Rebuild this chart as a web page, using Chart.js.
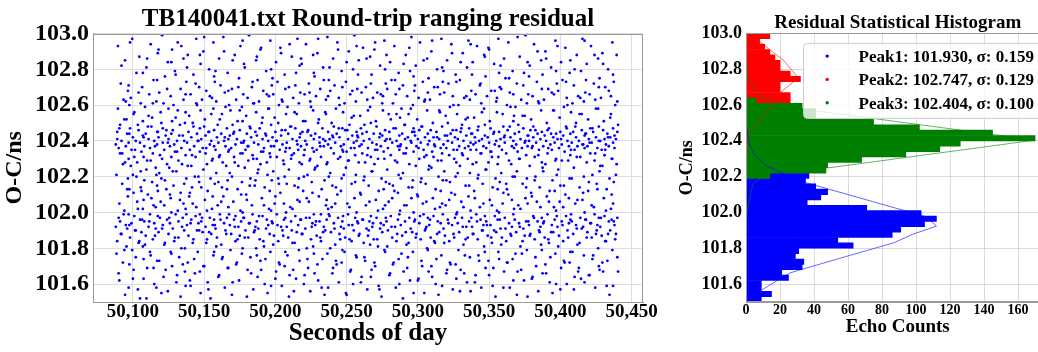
<!DOCTYPE html>
<html><head><meta charset="utf-8">
<script src="https://cdn.jsdelivr.net/npm/chart.js@4.4.1/dist/chart.umd.min.js"></script>
<style>
html,body{margin:0;padding:0;background:#fff;overflow:hidden;}
#wrap{position:relative;width:1038px;height:352px;overflow:hidden;background:#fff;}
#left{position:absolute;left:0;top:0;}
#right{position:absolute;left:677px;top:0;}
</style></head>
<body><div id="wrap"><canvas id="left" width="677" height="352"></canvas><canvas id="right" width="378" height="352"></canvas></div>
<script>
// ---------- DATA ----------
const SECOND_BASE = 50000; // echo times below are seconds after 50000 s of day
// pairs: [seconds after 50000, O-C residual in ns]
const echoSeg1 = [
88,102.38,88,101.92,89,102.45,89,101.84,89,102.41,90,102.36,90,101.97,90,101.66,91,102.49,91,102.33,91,101.95,92,102.82,92,102.40,92,101.88,93,102.27,93,101.72,94,102.52,94,102.01,94,101.79,95,102.37,95,101.93,95,102.62,96,102.44,96,102.13,96,101.91,97,102.30,97,101.58,97,102.39,97,101.99,97,102.71,
98,102.47,98,101.86,98,102.95,99,102.35,99,101.94,100,102.42,100,102.21,100,101.63,101,102.31,101,101.98,101,102.56,102,102.40,102,101.90,102,101.75,103,102.28,103,102.06,104,102.46,104,101.83,104,102.67,105,102.39,105,101.96,105,101.52,106,102.34,106,102.12,106,101.89,107,102.51,107,101.81,107,102.43,107,102.02,107,102.78,
108,102.37,108,101.95,108,102.18,109,102.44,109,101.87,110,102.29,110,101.69,110,102.86,111,102.41,111,101.92,111,102.54,112,102.36,112,101.99,112,101.78,113,102.48,113,102.08,114,102.33,114,101.85,114,102.61,115,102.40,115,101.94,115,101.60,116,102.25,116,102.03,116,101.91,117,102.45,117,101.73,117,102.38,117,102.15,117,102.74,
118,102.42,118,101.89,118,102.91,119,102.32,119,101.97,120,102.50,120,102.19,120,101.55,121,102.39,121,101.93,121,102.47,122,102.35,122,101.82,122,102.04,123,102.43,123,101.68,124,102.27,124,101.96,124,102.69,125,102.41,125,101.88,125,102.58,126,102.37,126,102.10,126,101.94,127,102.31,127,101.77,127,102.44,127,102.00,127,102.84,
128,102.46,128,101.91,128,102.23,129,102.38,129,101.84,130,102.53,130,101.99,130,102.77,131,102.34,131,101.65,131,102.40,132,102.29,132,101.95,132,101.86,133,102.49,133,102.07,134,102.36,134,101.80,134,102.93,135,102.43,135,101.97,135,101.71,136,102.40,136,102.16,136,101.90,137,102.32,137,101.59,137,102.56,137,102.02,137,102.66
];
const echoSeg2 = [
138,102.39,138,101.93,138,102.81,139,102.45,139,101.87,140,102.35,140,102.11,140,101.62,141,102.42,141,101.96,141,102.26,142,102.50,142,101.83,142,102.05,143,102.37,143,101.74,144,102.31,144,101.98,144,102.72,145,102.44,145,101.90,145,102.60,146,102.40,146,102.20,146,101.94,147,102.34,147,101.67,147,102.47,147,101.99,147,102.88,
148,102.41,148,101.95,148,102.14,149,102.36,149,101.89,150,102.48,150,101.70,150,102.98,151,102.33,151,101.92,151,102.43,152,102.27,152,101.85,152,102.01,153,102.45,153,101.57,154,102.38,154,101.97,154,102.65,155,102.40,155,101.88,155,102.55,156,102.30,156,102.09,156,101.93,157,102.46,157,101.78,157,102.37,157,101.96,157,102.76,
158,102.35,158,101.91,158,102.79,159,102.42,159,101.86,160,102.39,160,102.17,160,101.64,161,102.52,161,101.99,161,102.32,162,102.44,162,101.82,162,102.06,163,102.28,163,101.75,164,102.40,164,101.94,164,102.90,165,102.37,165,101.90,165,102.59,166,102.47,166,102.13,166,101.97,167,102.34,167,101.69,167,102.41,167,102.03,167,102.68,
168,102.43,168,101.93,168,102.22,169,102.36,169,101.88,170,102.49,170,101.61,170,102.85,171,102.31,171,101.96,171,102.45,172,102.38,172,101.84,172,101.98,173,102.41,173,101.72,174,102.26,174,101.92,174,102.70,175,102.46,175,101.87,175,102.57,176,102.39,176,102.10,176,101.95,177,102.33,177,101.80,177,102.51,177,102.00,177,102.96,
178,102.40,178,101.97,178,102.83,179,102.35,179,101.90,180,102.44,180,102.07,180,101.53,181,102.37,181,101.86,181,102.29,182,102.48,182,101.94,182,102.15,183,102.42,183,101.66,184,102.32,184,101.99,184,102.73,185,102.39,185,101.89,185,102.61,186,102.45,186,102.18,186,101.92,187,102.30,187,101.76,187,102.43,187,101.95,187,102.87
];
const echoSeg3 = [
188,102.38,188,101.91,188,102.24,189,102.47,189,101.85,190,102.34,190,101.68,190,102.92,191,102.41,191,101.98,191,102.53,192,102.36,192,101.81,192,102.04,193,102.44,193,101.74,194,102.28,194,101.96,194,102.66,195,102.40,195,101.93,195,102.58,196,102.33,196,102.12,196,101.88,197,102.49,197,101.59,197,102.37,197,102.01,197,102.80,
198,102.42,198,101.94,198,102.75,199,102.37,199,101.87,200,102.45,200,102.09,200,101.63,201,102.31,201,101.99,201,102.40,202,102.50,202,101.84,202,102.19,203,102.35,203,101.71,204,102.43,204,101.92,204,102.89,205,102.38,205,101.90,205,102.62,206,102.27,206,102.05,206,101.96,207,102.46,207,101.78,207,102.34,207,101.97,207,102.69,
208,102.39,208,101.92,208,102.16,209,102.44,209,101.86,210,102.36,210,101.65,210,102.94,211,102.48,211,101.95,211,102.30,212,102.41,212,101.83,212,102.02,213,102.33,213,101.56,214,102.47,214,101.98,214,102.71,215,102.40,215,101.89,215,102.55,216,102.35,216,102.14,216,101.93,217,102.42,217,101.73,217,102.28,217,102.06,217,102.82,
218,102.37,218,101.96,218,102.86,219,102.45,219,101.88,220,102.32,220,102.20,220,101.60,221,102.40,221,101.91,221,102.51,222,102.38,222,101.80,222,102.08,223,102.46,223,101.69,224,102.29,224,101.97,224,102.67,225,102.43,225,101.85,225,102.59,226,102.36,226,102.11,226,101.94,227,102.41,227,101.77,227,102.34,227,101.99,227,102.78,
228,102.44,228,101.93,228,102.25,229,102.35,229,101.87,230,102.50,230,101.62,230,102.97,231,102.39,231,101.95,231,102.42,232,102.31,232,101.84,232,101.99,233,102.47,233,101.74,234,102.37,234,101.92,234,102.74,235,102.40,235,101.90,235,102.56,236,102.27,236,102.07,236,101.96,237,102.45,237,101.58,237,102.38,237,102.02,237,102.65
];
const echoSeg4 = [
238,102.41,238,101.98,238,102.81,239,102.36,239,101.89,240,102.43,240,102.15,240,101.66,241,102.33,241,101.94,241,102.48,242,102.39,242,101.82,242,102.05,243,102.44,243,101.71,244,102.30,244,101.97,244,102.91,245,102.42,245,101.88,245,102.60,246,102.37,246,102.12,246,101.92,247,102.47,247,101.79,247,102.35,247,101.95,247,102.70,
248,102.38,248,101.91,248,102.21,249,102.46,249,101.86,250,102.34,250,101.54,250,102.84,251,102.41,251,101.99,251,102.29,252,102.49,252,101.85,252,102.03,253,102.36,253,101.68,254,102.43,254,101.93,254,102.68,255,102.39,255,101.90,255,102.54,256,102.32,256,102.17,256,101.97,257,102.45,257,101.75,257,102.40,257,102.00,257,102.93,
258,102.42,258,101.94,258,102.77,259,102.37,259,101.88,260,102.47,260,102.10,260,101.61,261,102.33,261,101.96,261,102.44,262,102.40,262,101.83,262,102.18,263,102.28,263,101.73,264,102.45,264,101.91,264,102.86,265,102.36,265,101.87,265,102.57,266,102.41,266,102.06,266,101.95,267,102.31,267,101.64,267,102.50,267,101.98,267,102.72,
268,102.39,268,101.92,268,102.23,269,102.44,269,101.85,270,102.35,270,101.70,270,102.95,271,102.48,271,101.97,271,102.38,272,102.30,272,101.81,272,102.01,273,102.42,273,101.57,274,102.37,274,101.94,274,102.66,275,102.43,275,101.89,275,102.61,276,102.34,276,102.13,276,101.93,277,102.46,277,101.78,277,102.40,277,102.04,277,102.80,
278,102.41,278,101.95,278,102.88,279,102.36,279,101.90,280,102.45,280,102.16,280,101.65,281,102.32,281,101.98,281,102.52,282,102.39,282,101.86,282,102.08,283,102.47,283,101.72,284,102.29,284,101.92,284,102.74,285,102.40,285,101.84,285,102.55,286,102.37,286,102.11,286,101.96,287,102.43,287,101.60,287,102.35,287,101.99,287,102.69
];
const echoSeg5 = [
288,102.38,288,101.93,288,102.19,289,102.44,289,101.87,290,102.33,290,101.67,290,102.83,291,102.49,291,101.95,291,102.41,292,102.36,292,101.82,292,102.04,293,102.42,293,101.75,294,102.27,294,101.97,294,102.92,295,102.40,295,101.91,295,102.58,296,102.45,296,102.14,296,101.89,297,102.34,297,101.55,297,102.47,297,102.00,297,102.76,
298,102.43,298,101.96,298,102.71,299,102.37,299,101.88,300,102.41,300,102.09,300,101.62,301,102.30,301,101.94,301,102.46,302,102.39,302,101.85,302,102.17,303,102.48,303,101.70,304,102.35,304,101.99,304,102.85,305,102.42,305,101.90,305,102.63,306,102.32,306,102.06,306,101.92,307,102.44,307,101.79,307,102.38,307,101.97,307,102.67,
308,102.40,308,101.93,308,102.26,309,102.46,309,101.86,310,102.34,310,101.64,310,102.96,311,102.42,311,101.98,311,102.31,312,102.37,312,101.83,312,102.02,313,102.45,313,101.74,314,102.29,314,101.95,314,102.70,315,102.41,315,101.89,315,102.57,316,102.36,316,102.12,316,101.94,317,102.48,317,101.59,317,102.33,317,102.05,317,102.81,
318,102.38,318,101.91,318,102.79,319,102.43,319,101.87,320,102.36,320,102.18,320,101.66,321,102.50,321,101.96,321,102.40,322,102.32,322,101.84,322,102.07,323,102.44,323,101.71,324,102.39,324,101.93,324,102.89,325,102.35,325,101.88,325,102.60,326,102.42,326,102.10,326,101.97,327,102.28,327,101.63,327,102.46,327,101.99,327,102.73,
328,102.41,328,101.94,328,102.22,329,102.37,329,101.89,330,102.45,330,101.68,330,102.84,331,102.33,331,101.97,331,102.49,332,102.40,332,101.82,332,102.03,333,102.36,333,101.76,334,102.43,334,101.92,334,102.65,335,102.30,335,101.86,335,102.53,336,102.47,336,102.15,336,101.95,337,102.39,337,101.56,337,102.35,337,102.01,337,102.94
];
const echoSeg6 = [
338,102.44,338,101.92,338,102.77,339,102.38,339,101.88,340,102.42,340,102.08,340,101.61,341,102.35,341,101.99,341,102.28,342,102.46,342,101.85,342,102.19,343,102.40,343,101.73,344,102.33,344,101.96,344,102.72,345,102.41,345,101.90,345,102.56,346,102.37,346,102.05,346,101.93,347,102.49,347,101.78,347,102.43,347,101.98,347,102.87,
348,102.36,348,101.95,348,102.24,349,102.42,349,101.87,350,102.39,350,101.65,350,102.91,351,102.47,351,101.93,351,102.34,352,102.31,352,101.83,352,102.04,353,102.44,353,101.69,354,102.38,354,101.98,354,102.68,355,102.40,355,101.89,355,102.62,356,102.27,356,102.13,356,101.96,357,102.45,357,101.74,357,102.37,357,102.00,357,102.78,
358,102.41,358,101.91,358,102.82,359,102.35,359,101.86,360,102.48,360,102.11,360,101.58,361,102.39,361,101.97,361,102.43,362,102.33,362,101.84,362,102.16,363,102.46,363,101.72,364,102.29,364,101.94,364,102.75,365,102.42,365,101.88,365,102.59,366,102.37,366,102.07,366,101.92,367,102.40,367,101.62,367,102.51,367,101.99,367,102.66,
368,102.44,368,101.96,368,102.20,369,102.38,369,101.89,370,102.34,370,101.67,370,102.98,371,102.45,371,101.94,371,102.30,372,102.41,372,101.81,372,102.02,373,102.36,373,101.77,374,102.47,374,101.91,374,102.71,375,102.39,375,101.87,375,102.54,376,102.32,376,102.14,376,101.95,377,102.43,377,101.53,377,102.37,377,102.05,377,102.84,
378,102.40,378,101.93,378,102.76,379,102.46,379,101.88,380,102.36,380,102.09,380,101.63,381,102.42,381,101.98,381,102.48,382,102.31,382,101.85,382,102.18,383,102.39,383,101.70,384,102.44,384,101.95,384,102.90,385,102.35,385,101.90,385,102.61,386,102.41,386,102.03,386,101.92,387,102.28,387,101.79,387,102.45,387,101.97,387,102.69
];
const echoSeg7 = [
388,102.37,388,101.94,388,102.23,389,102.43,389,101.86,390,102.40,390,101.66,390,102.86,391,102.33,391,101.99,391,102.46,392,102.47,392,101.83,392,102.06,393,102.38,393,101.75,394,102.35,394,101.93,394,102.67,395,102.42,395,101.89,395,102.57,396,102.39,396,102.12,396,101.96,397,102.30,397,101.60,397,102.44,397,102.01,397,102.79,
398,102.41,398,101.92,398,102.93,399,102.36,399,101.87,400,102.45,400,102.15,400,101.57,401,102.38,401,101.95,401,102.29,402,102.43,402,101.84,402,102.03,403,102.34,403,101.72,404,102.48,404,101.98,404,102.73,405,102.40,405,101.90,405,102.60,406,102.37,406,102.08,406,101.94,407,102.44,407,101.78,407,102.32,407,101.96,407,102.85,
408,102.39,408,101.95,408,102.19,409,102.45,409,101.88,410,102.35,410,101.64,410,102.80,411,102.42,411,101.93,411,102.50,412,102.37,412,101.82,412,102.07,413,102.40,413,101.69,414,102.31,414,101.97,414,102.64,415,102.46,415,101.91,415,102.55,416,102.38,416,102.11,416,101.92,417,102.43,417,101.61,417,102.36,417,102.00,417,102.96,
418,102.44,418,101.96,418,102.74,419,102.37,419,101.89,420,102.41,420,102.17,420,101.65,421,102.33,421,101.94,421,102.47,422,102.39,422,101.86,422,102.04,423,102.45,423,101.76,424,102.29,424,101.99,424,102.88,425,102.42,425,101.88,425,102.58,426,102.36,426,102.13,426,101.93,427,102.48,427,101.70,427,102.40,427,101.97,427,102.70,
428,102.40,428,101.92,428,102.26,429,102.35,429,101.87,430,102.46,430,101.67,430,102.83,431,102.41,431,101.98,431,102.32,432,102.38,432,101.84,432,102.01,433,102.44,433,101.73,434,102.37,434,101.95,434,102.68,435,102.42,435,101.90,435,102.53,436,102.30,436,102.10,436,101.96,437,102.47,437,101.59,437,102.39,437,102.05,437,102.77,
438,102.43,438,101.93,438,102.36,439,101.88,439,102.41,439,102.21,440,101.97,440,102.45,440,101.75,440,102.62
];
// second group of echoes, at half-second times (the widely scattered returns)
const echoSeg8 = [
88.5,102.21,88.5,101.77,89.5,102.58,89.5,102.93,90.5,101.62,90.5,102.05,90.5,102.47,91.5,102.72,91.5,101.88,92.5,102.33,92.5,102.16,93.5,101.99,93.5,102.63,94.5,102.28,94.5,101.54,94.5,102.85,95.5,102.52,95.5,101.81,96.5,102.19,96.5,102.09,96.5,102.68,97.5,101.93,97.5,102.44,97.5,101.71,97.5,102.60,97.5,102.13,
98.5,102.64,98.5,102.26,99.5,101.79,99.5,102.97,100.5,102.55,100.5,102.11,100.5,101.68,101.5,102.35,101.5,101.90,102.5,102.78,102.5,102.20,103.5,101.57,103.5,102.49,103.5,102.02,104.5,102.87,104.5,101.84,105.5,102.61,105.5,102.23,105.5,102.14,106.5,101.96,106.5,102.70,107.5,102.42,107.5,101.74,107.5,102.07,107.5,102.31,107.5,101.63,
108.5,102.59,108.5,101.82,109.5,102.24,109.5,102.81,109.5,101.52,110.5,102.48,110.5,102.10,111.5,101.95,111.5,102.66,112.5,102.29,112.5,101.76,112.5,102.94,113.5,102.17,113.5,102.53,114.5,101.69,114.5,102.04,114.5,102.74,115.5,102.37,115.5,101.87,116.5,102.62,116.5,102.21,116.5,101.58,117.5,102.45,117.5,102.12,117.5,101.98,117.5,102.89,
118.5,102.22,118.5,101.73,118.5,102.67,119.5,102.56,119.5,102.06,120.5,101.91,120.5,102.99,120.5,102.30,121.5,101.64,121.5,102.61,122.5,102.18,122.5,101.83,122.5,102.76,123.5,102.46,123.5,102.13,124.5,101.56,124.5,102.39,124.5,102.84,125.5,101.97,125.5,102.25,126.5,102.65,126.5,101.78,126.5,102.08,127.5,102.51,127.5,101.70,127.5,102.91,
128.5,102.60,128.5,102.15,129.5,101.86,129.5,102.34,129.5,102.79,130.5,101.61,130.5,102.23,131.5,102.57,131.5,102.01,131.5,102.95,132.5,101.75,132.5,102.43,133.5,102.69,133.5,102.11,133.5,101.53,134.5,102.27,134.5,101.92,135.5,102.63,135.5,102.86,135.5,102.05,136.5,101.80,136.5,102.50,136.5,101.67,137.5,102.19,137.5,102.73,137.5,101.99
];
const echoSeg9 = [
138.5,102.26,138.5,101.72,138.5,102.88,139.5,102.54,139.5,102.09,140.5,101.94,140.5,102.66,140.5,101.59,141.5,102.32,141.5,102.14,142.5,102.77,142.5,101.85,142.5,102.48,143.5,102.20,143.5,101.66,144.5,102.61,144.5,102.03,144.5,102.97,145.5,101.78,145.5,102.40,146.5,102.70,146.5,102.17,146.5,101.90,147.5,102.57,147.5,101.55,147.5,102.83,
148.5,102.63,148.5,101.97,149.5,102.24,149.5,102.90,149.5,101.70,150.5,102.52,150.5,102.07,151.5,101.83,151.5,102.68,151.5,102.36,152.5,101.61,152.5,102.12,153.5,102.80,153.5,102.45,153.5,101.89,154.5,102.19,154.5,101.52,155.5,102.64,155.5,102.29,155.5,102.02,156.5,101.76,156.5,102.95,156.5,102.58,157.5,102.16,157.5,101.93,157.5,102.73,
158.5,102.22,158.5,101.81,158.5,102.62,159.5,102.49,159.5,102.04,160.5,102.86,160.5,101.65,160.5,102.31,161.5,101.96,161.5,102.71,162.5,102.14,162.5,101.74,162.5,102.55,163.5,102.98,163.5,102.09,164.5,101.58,164.5,102.42,164.5,102.67,165.5,101.88,165.5,102.26,166.5,102.78,166.5,102.18,166.5,101.69,167.5,102.60,167.5,101.99,167.5,102.35,
168.5,102.57,168.5,101.79,169.5,102.20,169.5,102.69,169.5,101.54,170.5,102.44,170.5,102.06,171.5,101.92,171.5,102.88,171.5,102.28,172.5,101.71,172.5,102.63,173.5,102.13,173.5,102.51,173.5,101.85,174.5,102.75,174.5,101.62,175.5,102.33,175.5,102.01,175.5,102.93,176.5,101.77,176.5,102.59,176.5,102.17,177.5,101.97,177.5,102.66,177.5,102.39,
178.5,102.25,178.5,101.86,178.5,102.81,179.5,102.54,179.5,102.10,180.5,101.68,180.5,102.64,180.5,102.37,181.5,101.94,181.5,102.99,182.5,102.19,182.5,101.75,182.5,102.47,183.5,102.70,183.5,102.04,184.5,101.57,184.5,102.30,184.5,102.61,185.5,101.90,185.5,102.15,186.5,102.85,186.5,102.56,186.5,101.80,187.5,102.22,187.5,101.64,187.5,102.74
];
const echoSeg10 = [
188.5,102.62,188.5,101.98,189.5,102.27,189.5,102.91,189.5,101.73,190.5,102.50,190.5,102.08,191.5,101.84,191.5,102.68,191.5,102.34,192.5,101.60,192.5,102.14,193.5,102.79,193.5,102.43,193.5,101.91,194.5,102.21,194.5,101.55,195.5,102.65,195.5,102.58,195.5,102.02,196.5,101.78,196.5,102.96,196.5,102.31,197.5,102.18,197.5,101.95,197.5,102.71,
198.5,102.23,198.5,101.82,198.5,102.66,199.5,102.53,199.5,102.05,200.5,102.84,200.5,101.67,200.5,102.40,201.5,101.93,201.5,102.73,202.5,102.16,202.5,101.72,202.5,102.60,203.5,102.92,203.5,102.11,204.5,101.59,204.5,102.46,204.5,102.63,205.5,101.87,205.5,102.29,206.5,102.77,206.5,102.20,206.5,101.70,207.5,102.55,207.5,102.00,207.5,102.36,
208.5,102.59,208.5,101.76,209.5,102.24,209.5,102.70,209.5,101.53,210.5,102.48,210.5,102.03,211.5,101.90,211.5,102.87,211.5,102.32,212.5,101.68,212.5,102.64,213.5,102.15,213.5,102.56,213.5,101.83,214.5,102.78,214.5,101.63,215.5,102.38,215.5,102.07,215.5,102.97,216.5,101.79,216.5,102.61,216.5,102.19,217.5,101.96,217.5,102.67,217.5,102.44,
218.5,102.27,218.5,101.88,218.5,102.83,219.5,102.51,219.5,102.12,220.5,101.65,220.5,102.66,220.5,102.35,221.5,101.97,221.5,102.94,222.5,102.21,222.5,101.74,222.5,102.45,223.5,102.72,223.5,102.06,224.5,101.56,224.5,102.30,224.5,102.62,225.5,101.92,225.5,102.17,226.5,102.88,226.5,102.57,226.5,101.81,227.5,102.24,227.5,101.66,227.5,102.76,
228.5,102.65,228.5,101.95,229.5,102.26,229.5,102.89,229.5,101.71,230.5,102.52,230.5,102.09,231.5,101.86,231.5,102.69,231.5,102.37,232.5,101.58,232.5,102.13,233.5,102.81,233.5,102.41,233.5,101.89,234.5,102.18,234.5,101.54,235.5,102.63,235.5,102.55,235.5,102.04,236.5,101.77,236.5,102.98,236.5,102.28,237.5,102.20,237.5,101.99,237.5,102.74
];
const echoSeg11 = [
238.5,102.22,238.5,101.80,238.5,102.68,239.5,102.50,239.5,102.03,240.5,102.86,240.5,101.69,240.5,102.42,241.5,101.91,241.5,102.71,242.5,102.14,242.5,101.73,242.5,102.58,243.5,102.95,243.5,102.10,244.5,101.61,244.5,102.47,244.5,102.64,245.5,101.85,245.5,102.31,246.5,102.79,246.5,102.19,246.5,101.72,247.5,102.56,247.5,101.98,247.5,102.34,
248.5,102.61,248.5,101.78,249.5,102.25,249.5,102.73,249.5,101.55,250.5,102.46,250.5,102.05,251.5,101.93,251.5,102.90,251.5,102.29,252.5,101.67,252.5,102.66,253.5,102.16,253.5,102.53,253.5,101.84,254.5,102.80,254.5,101.60,255.5,102.36,255.5,102.08,255.5,102.99,256.5,101.76,256.5,102.62,256.5,102.21,257.5,101.95,257.5,102.69,257.5,102.43,
258.5,102.28,258.5,101.87,258.5,102.85,259.5,102.54,259.5,102.11,260.5,101.64,260.5,102.67,260.5,102.38,261.5,101.96,261.5,102.92,262.5,102.20,262.5,101.75,262.5,102.49,263.5,102.70,263.5,102.04,264.5,101.57,264.5,102.32,264.5,102.63,265.5,101.90,265.5,102.15,266.5,102.87,266.5,102.59,266.5,101.82,267.5,102.23,267.5,101.68,267.5,102.77,
268.5,102.64,268.5,101.94,269.5,102.27,269.5,102.91,269.5,101.72,270.5,102.51,270.5,102.07,271.5,101.85,271.5,102.67,271.5,102.35,272.5,101.59,272.5,102.12,273.5,102.82,273.5,102.44,273.5,101.91,274.5,102.19,274.5,101.53,275.5,102.65,275.5,102.57,275.5,102.02,276.5,101.79,276.5,102.96,276.5,102.30,277.5,102.17,277.5,101.97,277.5,102.72,
278.5,102.24,278.5,101.81,278.5,102.69,279.5,102.55,279.5,102.06,280.5,102.84,280.5,101.66,280.5,102.41,281.5,101.92,281.5,102.74,282.5,102.15,282.5,101.71,282.5,102.61,283.5,102.93,283.5,102.12,284.5,101.58,284.5,102.47,284.5,102.66,285.5,101.88,285.5,102.28,286.5,102.78,286.5,102.21,286.5,101.74,287.5,102.53,287.5,102.01,287.5,102.37
];
const echoSeg12 = [
288.5,102.58,288.5,101.77,289.5,102.22,289.5,102.71,289.5,101.52,290.5,102.49,290.5,102.04,291.5,101.89,291.5,102.88,291.5,102.33,292.5,101.69,292.5,102.65,293.5,102.14,293.5,102.55,293.5,101.83,294.5,102.79,294.5,101.62,295.5,102.39,295.5,102.08,295.5,102.98,296.5,101.78,296.5,102.60,296.5,102.18,297.5,101.95,297.5,102.68,297.5,102.45,
298.5,102.26,298.5,101.86,298.5,102.82,299.5,102.52,299.5,102.10,300.5,101.63,300.5,102.64,300.5,102.36,301.5,101.98,301.5,102.95,302.5,102.19,302.5,101.73,302.5,102.48,303.5,102.73,303.5,102.05,304.5,101.55,304.5,102.31,304.5,102.62,305.5,101.91,305.5,102.16,306.5,102.86,306.5,102.57,306.5,101.80,307.5,102.24,307.5,101.67,307.5,102.75,
308.5,102.63,308.5,101.96,309.5,102.25,309.5,102.90,309.5,101.70,310.5,102.50,310.5,102.08,311.5,101.84,311.5,102.70,311.5,102.38,312.5,101.60,312.5,102.13,313.5,102.80,313.5,102.42,313.5,101.88,314.5,102.20,314.5,101.54,315.5,102.66,315.5,102.56,315.5,102.03,316.5,101.76,316.5,102.97,316.5,102.29,317.5,102.18,317.5,101.99,317.5,102.73,
318.5,102.23,318.5,101.83,318.5,102.67,319.5,102.54,319.5,102.04,320.5,102.85,320.5,101.68,320.5,102.43,321.5,101.94,321.5,102.72,322.5,102.17,322.5,101.72,322.5,102.59,323.5,102.94,323.5,102.11,324.5,101.57,324.5,102.46,324.5,102.65,325.5,101.86,325.5,102.30,326.5,102.77,326.5,102.20,326.5,101.71,327.5,102.55,327.5,102.00,327.5,102.35,
328.5,102.60,328.5,101.79,329.5,102.26,329.5,102.74,329.5,101.56,330.5,102.47,330.5,102.06,331.5,101.92,331.5,102.89,331.5,102.32,332.5,101.66,332.5,102.64,333.5,102.15,333.5,102.52,333.5,101.85,334.5,102.81,334.5,101.61,335.5,102.37,335.5,102.09,335.5,102.96,336.5,101.75,336.5,102.63,336.5,102.22,337.5,101.97,337.5,102.68,337.5,102.44
];
const echoSeg13 = [
338.5,102.27,338.5,101.88,338.5,102.84,339.5,102.53,339.5,102.12,340.5,101.65,340.5,102.66,340.5,102.39,341.5,101.95,341.5,102.93,342.5,102.21,342.5,101.76,342.5,102.48,343.5,102.71,343.5,102.03,344.5,101.58,344.5,102.33,344.5,102.61,345.5,101.90,345.5,102.16,346.5,102.88,346.5,102.58,346.5,101.81,347.5,102.24,347.5,101.69,347.5,102.76,
348.5,102.65,348.5,101.93,349.5,102.28,349.5,102.92,349.5,101.73,350.5,102.51,350.5,102.07,351.5,101.86,351.5,102.68,351.5,102.34,352.5,101.59,352.5,102.14,353.5,102.83,353.5,102.45,353.5,101.90,354.5,102.19,354.5,101.53,355.5,102.64,355.5,102.56,355.5,102.01,356.5,101.78,356.5,102.97,356.5,102.31,357.5,102.17,357.5,101.96,357.5,102.70,
358.5,102.22,358.5,101.82,358.5,102.69,359.5,102.55,359.5,102.05,360.5,102.86,360.5,101.67,360.5,102.42,361.5,101.91,361.5,102.75,362.5,102.13,362.5,101.72,362.5,102.60,363.5,102.95,363.5,102.10,364.5,101.58,364.5,102.48,364.5,102.67,365.5,101.87,365.5,102.27,366.5,102.79,366.5,102.20,366.5,101.74,367.5,102.54,367.5,102.02,367.5,102.36,
368.5,102.59,368.5,101.77,369.5,102.23,369.5,102.72,369.5,101.54,370.5,102.49,370.5,102.04,371.5,101.92,371.5,102.87,371.5,102.30,372.5,101.68,372.5,102.63,373.5,102.16,373.5,102.54,373.5,101.84,374.5,102.78,374.5,101.62,375.5,102.40,375.5,102.08,375.5,102.99,376.5,101.79,376.5,102.61,376.5,102.19,377.5,101.95,377.5,102.66,377.5,102.43,
378.5,102.26,378.5,101.87,378.5,102.82,379.5,102.52,379.5,102.11,380.5,101.64,380.5,102.65,380.5,102.37,381.5,101.97,381.5,102.94,382.5,102.20,382.5,101.75,382.5,102.46,383.5,102.73,383.5,102.06,384.5,101.56,384.5,102.32,384.5,102.62,385.5,101.89,385.5,102.14,386.5,102.85,386.5,102.57,386.5,101.82,387.5,102.25,387.5,101.66,387.5,102.77
];
const echoSeg14 = [
388.5,102.63,388.5,101.95,389.5,102.27,389.5,102.90,389.5,101.71,390.5,102.50,390.5,102.09,391.5,101.85,391.5,102.69,391.5,102.36,392.5,101.61,392.5,102.12,393.5,102.81,393.5,102.44,393.5,101.89,394.5,102.18,394.5,101.55,395.5,102.66,395.5,102.57,395.5,102.03,396.5,101.77,396.5,102.96,396.5,102.29,397.5,102.21,397.5,101.98,397.5,102.72,
398.5,102.24,398.5,101.81,398.5,102.68,399.5,102.53,399.5,102.06,400.5,102.84,400.5,101.69,400.5,102.41,401.5,101.93,401.5,102.74,402.5,102.15,402.5,101.73,402.5,102.59,403.5,102.92,403.5,102.10,404.5,101.60,404.5,102.47,404.5,102.64,405.5,101.86,405.5,102.29,406.5,102.78,406.5,102.19,406.5,101.72,407.5,102.56,407.5,101.99,407.5,102.35,
408.5,102.61,408.5,101.78,409.5,102.25,409.5,102.71,409.5,101.57,410.5,102.48,410.5,102.05,411.5,101.91,411.5,102.88,411.5,102.31,412.5,101.67,412.5,102.65,413.5,102.14,413.5,102.55,413.5,101.83,414.5,102.79,414.5,101.63,415.5,102.38,415.5,102.07,415.5,102.97,416.5,101.76,416.5,102.62,416.5,102.20,417.5,101.96,417.5,102.67,417.5,102.44,
418.5,102.28,418.5,101.86,418.5,102.83,419.5,102.52,419.5,102.12,420.5,101.65,420.5,102.66,420.5,102.39,421.5,101.94,421.5,102.93,422.5,102.21,422.5,101.74,422.5,102.47,423.5,102.72,423.5,102.03,424.5,101.58,424.5,102.33,424.5,102.63,425.5,101.90,425.5,102.16,426.5,102.86,426.5,102.58,426.5,101.80,427.5,102.23,427.5,101.68,427.5,102.75,
428.5,102.64,428.5,101.97,429.5,102.26,429.5,102.89,429.5,101.72,430.5,102.51,430.5,102.08,431.5,101.84,431.5,102.70,431.5,102.35,432.5,101.59,432.5,102.13,433.5,102.80,433.5,102.42,433.5,101.88,434.5,102.19,434.5,101.54,435.5,102.65,435.5,102.55,435.5,102.02,436.5,101.79,436.5,102.95,436.5,102.30,437.5,102.17,437.5,101.95,437.5,102.73,
438.5,102.60,438.5,101.85,439.5,102.27,439.5,102.88,440.5,102.49,440.5,101.67
];

// histogram: bin centres (ns) and echo counts per peak (null = no bar of that colour)
const binCentres = [101.515,101.545,101.575,101.605,101.635,101.665,101.695,101.725,101.755,101.785,101.815,101.845,101.875,101.905,101.935,101.965,101.995,102.025,102.055,102.085,102.115,102.145,102.175,102.205,102.235,102.265,102.295,102.325,102.355,102.385,102.415,102.445,102.475,102.505,102.535,102.565,102.595,102.625,102.655,102.685,102.715,102.745,102.775,102.805,102.835,102.865,102.895,102.925,102.955,102.985];
const peak1Counts = [9,15,9,9,25,21,33,34,29,31,63,54,86,91,105,112,103,71,36,44,48,41,35,37,null,null,null,null,null,null,null,null,null,null,null,null,null,null,null,null,null,null,null,null,null,null,null,null,null,null];
const peak2Counts = [null,null,null,null,null,null,null,null,null,null,null,null,null,null,null,null,null,null,null,null,null,null,null,null,null,null,null,null,null,null,null,null,null,null,null,null,null,26,26,20,20,32,26,20,20,17,14,11,8,14];
const peak3Counts = [null,null,null,null,null,null,null,null,null,null,null,null,null,null,null,null,null,null,null,null,null,null,null,14,47,48,68,94,114,126,170,145,102,75,41,41,33,6,null,null,null,null,null,null,null,null,null,null,null,null];

// fitted curves: [count, O-C ns]
const peak1Curve = [[9,101.566],[26,101.663],[61,101.76],[87,101.831],[98,101.878],[112,101.924],[106,101.976],[35,102.167],[26.5,102.2],[12,102.26],[5,102.32],[2,102.38],[0.5,102.47],[0.1,102.56],[0,102.7],[0,102.96]];
const peak2Curve = [[7.6,102.957],[22,102.85],[30.8,102.752],[20,102.668],[17,102.61],[8,102.52],[1.8,102.44],[0.4,102.35],[0,102.2]];
const peak3Curve = [[0,102.9],[1,102.75],[8,102.65],[33,102.578],[170,102.404],[50,102.251],[16,102.232],[4,102.16],[0.4,102.0],[0,101.8]];

const peakCentres = [101.930, 102.747, 102.404];
const peakSigmas = [0.159, 0.129, 0.100];
const peakColours = ['#0000ff', '#ff0000', '#008000'];

const secondsTicks = [50100,50150,50200,50250,50300,50350,50400,50450];
const residualTicks = [101.6,101.8,102.0,102.2,102.4,102.6,102.8,103.0];
const countTicks = [0,20,40,60,80,100,120,140,160];

// ---------- BUILD ----------
const SERIF = '"Liberation Serif", "Times New Roman", serif';
Chart.defaults.font.family = SERIF;
Chart.defaults.font.weight = 'bold';
Chart.defaults.color = '#000';

function pairsToPoints(arr) {
  const out = [];
  for (let i = 0; i + 1 < arr.length; i += 2) out.push({x: SECOND_BASE + arr[i], y: arr[i + 1]});
  return out;
}
const scatterPoints = [echoSeg1, echoSeg2, echoSeg3, echoSeg4, echoSeg5, echoSeg6, echoSeg7,
  echoSeg8, echoSeg9, echoSeg10, echoSeg11, echoSeg12, echoSeg13, echoSeg14].flatMap(pairsToPoints);
const barData = counts => binCentres.map((c, i) => ({x: counts[i], y: c})).filter(p => p.x !== null);
const curveData = pts => pts.map(p => ({x: p[0], y: p[1]}));
const legendLabels = peakCentres.map((c, i) => `Peak${i + 1}: ${c.toFixed(3)}, σ: ${peakSigmas[i].toFixed(3)}`);

const framePlugin = {
  id: 'frame',
  afterDraw(chart) {
    const {ctx, chartArea: a} = chart;
    ctx.save();
    ctx.strokeStyle = '#9a9a9a';
    ctx.lineWidth = 1;
    ctx.strokeRect(Math.round(a.left) + 0.5, Math.round(a.top) + 0.5, Math.round(a.right - a.left) - 1, Math.round(a.bottom - a.top) - 1);
    ctx.restore();
  }
};

const legendPlugin = {
  id: 'peakLegend',
  afterDraw(chart) {
    const {ctx, chartArea: a} = chart;
    const right = a.right - 5, left = right - 241, top = a.top + 10, h = 75, r = 4;
    ctx.save();
    ctx.beginPath();
    ctx.moveTo(left + r, top);
    ctx.lineTo(right - r, top); ctx.arcTo(right, top, right, top + r, r);
    ctx.lineTo(right, top + h - r); ctx.arcTo(right, top + h, right - r, top + h, r);
    ctx.lineTo(left + r, top + h); ctx.arcTo(left, top + h, left, top + h - r, r);
    ctx.lineTo(left, top + r); ctx.arcTo(left, top, left + r, top, r);
    ctx.closePath();
    ctx.fillStyle = 'rgba(255,255,255,0.8)';
    ctx.fill();
    ctx.strokeStyle = '#cccccc';
    ctx.lineWidth = 1;
    ctx.stroke();
    ctx.font = 'bold 17px ' + SERIF;
    ctx.textBaseline = 'alphabetic';
    ctx.textAlign = 'left';
    legendLabels.forEach((t, i) => {
      const y = top + 18.7 + i * 23.3;
      ctx.beginPath();
      ctx.arc(left + 23.7, y - 6, 1.7, 0, Math.PI * 2);
      ctx.fillStyle = peakColours[i];
      ctx.fill();
      ctx.fillStyle = '#000';
      ctx.fillText(t, left + 55, y);
    });
    ctx.restore();
  }
};

new Chart(document.getElementById('left'), {
  type: 'scatter',
  data: {datasets: [{data: scatterPoints, backgroundColor: '#0000ff', borderWidth: 0, pointRadius: 1.4, pointHoverRadius: 1.4}]},
  options: {
    responsive: false, animation: false, devicePixelRatio: 1,
    layout: {padding: {left: 0, right: 34, top: 0, bottom: 0}},
    plugins: {
      legend: {display: false}, tooltip: {enabled: false},
      title: {display: true, text: 'TB140041.txt Round-trip ranging residual', fullSize: false, color: '#000',
        font: {family: SERIF, weight: 'bold', size: 25, lineHeight: 1.1}, padding: {top: 6, bottom: 0}}
    },
    scales: {
      x: {
        type: 'linear', min: 50072, max: 50458,
        afterFit: s => { s.height = 50; },
        afterBuildTicks: s => { s.ticks = secondsTicks.map(v => ({value: v})); },
        grid: {color: '#dddddd', drawTicks: false},
        border: {color: '#9a9a9a'},
        ticks: {padding: 1, font: {size: 19, lineHeight: 1}, callback: v => v.toLocaleString('en-US')},
        title: {display: true, text: 'Seconds of day', font: {size: 25, lineHeight: 1.2}, padding: {top: 0, bottom: 3}}
      },
      y: {
        type: 'linear', min: 101.5, max: 103.0,
        afterFit: s => { s.width = 93; },
        afterBuildTicks: s => { s.ticks = residualTicks.map(v => ({value: v})); },
        grid: {color: '#dddddd', drawTicks: false},
        border: {color: '#9a9a9a'},
        ticks: {padding: 4, font: {size: 24, lineHeight: 1}, callback: v => v.toFixed(1)},
        title: {display: true, text: 'O-C/ns', font: {size: 24, lineHeight: 1.2}, padding: {top: 0, bottom: 0}}
      }
    }
  },
  plugins: [framePlugin]
});

const barCommon = {grouped: false, barPercentage: 1, categoryPercentage: 1, borderWidth: 0};
const lineCommon = {type: 'line', borderWidth: 1, pointRadius: 0, pointHoverRadius: 0, tension: 0, fill: false, order: 0};

new Chart(document.getElementById('right'), {
  type: 'bar',
  data: {datasets: [
    Object.assign({label: 'fit1', data: curveData(peak1Curve), borderColor: 'rgba(0,0,255,0.6)'}, lineCommon),
    Object.assign({label: 'fit2', data: curveData(peak2Curve), borderColor: 'rgba(255,0,0,0.6)'}, lineCommon),
    Object.assign({label: 'fit3', data: curveData(peak3Curve), borderColor: 'rgba(0,128,0,0.6)'}, lineCommon),
    Object.assign({label: legendLabels[2], data: barData(peak3Counts), backgroundColor: peakColours[2], order: 1}, barCommon),
    Object.assign({label: legendLabels[1], data: barData(peak2Counts), backgroundColor: peakColours[1], order: 2}, barCommon),
    Object.assign({label: legendLabels[0], data: barData(peak1Counts), backgroundColor: peakColours[0], order: 3}, barCommon)
  ]},
  options: {
    indexAxis: 'y',
    responsive: false, animation: false, devicePixelRatio: 1,
    layout: {padding: {left: 0, right: 5.5, top: 0, bottom: 0}},
    plugins: {
      legend: {display: false}, tooltip: {enabled: false},
      title: {display: true, text: 'Residual Statistical Histogram', fullSize: false, color: '#000',
        font: {family: SERIF, weight: 'bold', size: 19, lineHeight: 1.1}, padding: {top: 12.5, bottom: 0}}
    },
    scales: {
      x: {
        type: 'linear', position: 'bottom', min: 0, max: 178.5, z: 1,
        afterFit: s => { s.height = 50; },
        afterBuildTicks: s => { s.ticks = countTicks.map(v => ({value: v})); },
        grid: {color: 'rgba(190,190,190,0.55)', drawTicks: false},
        border: {color: '#9a9a9a'},
        ticks: {padding: 1, font: {size: 14, lineHeight: 1}},
        title: {display: true, text: 'Echo Counts', font: {size: 19, lineHeight: 1.2}, padding: {top: 0, bottom: 13.5}}
      },
      y: {
        type: 'linear', min: 101.5, max: 103.0, offset: false, z: 1,
        afterFit: s => { s.width = 69; },
        afterBuildTicks: s => { s.ticks = residualTicks.map(v => ({value: v})); },
        grid: {color: 'rgba(190,190,190,0.55)', drawTicks: false, offset: false},
        border: {color: '#9a9a9a'},
        ticks: {padding: 4, font: {size: 18, lineHeight: 1}, callback: v => v.toFixed(1)},
        title: {display: true, text: 'O-C/ns', font: {size: 18, lineHeight: 1.2}, padding: {top: 0, bottom: 0}}
      }
    }
  },
  plugins: [framePlugin, legendPlugin]
});
</script>
</body></html>
